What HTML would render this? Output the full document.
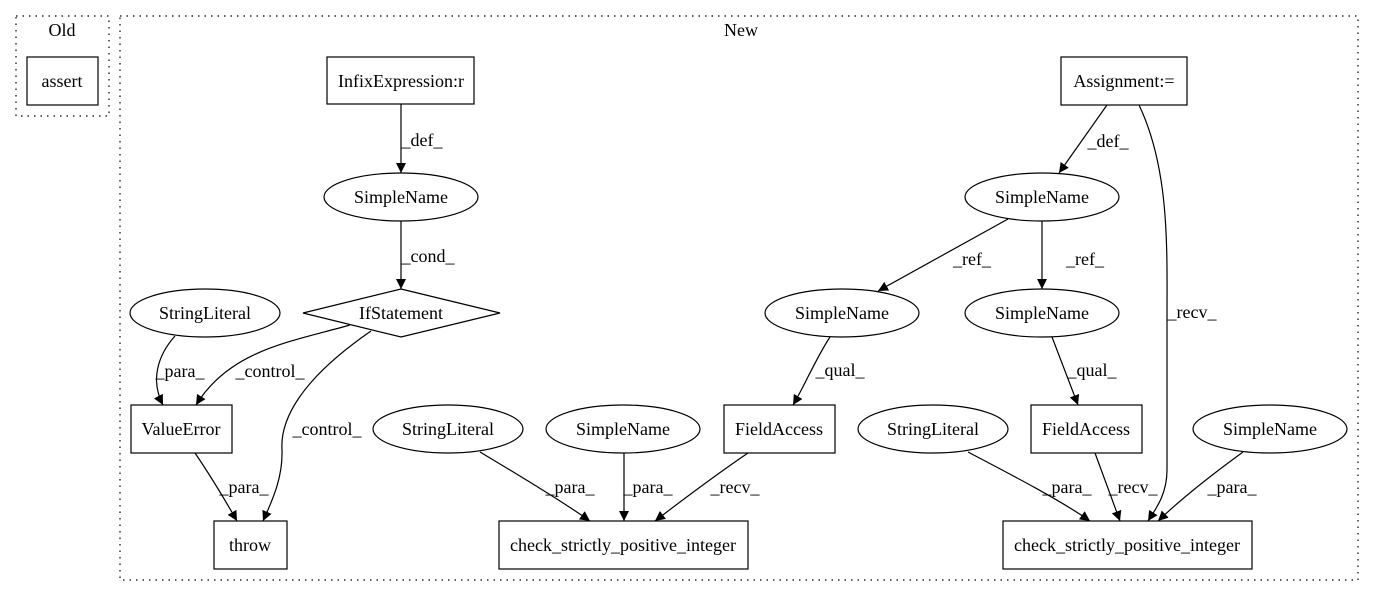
<!DOCTYPE html>
<html><head><meta charset="utf-8"><style>
html,body{margin:0;padding:0;background:#fff;}
svg{display:block;font-family:"Liberation Serif",serif;font-size:18px;}
</style></head><body>
<svg width="1375" height="596" viewBox="0 0 1375 596" xmlns="http://www.w3.org/2000/svg">
<defs><marker id="a" markerWidth="10" markerHeight="10" refX="10" refY="5" orient="auto" markerUnits="userSpaceOnUse"><path d="M0,0 L10,5 L0,10 z" fill="#000"/></marker></defs>
<g fill="none" stroke="#000" stroke-width="1.2">
<rect x="16" y="16" width="93" height="100" stroke-dasharray="1.5,5"/>
<rect x="120" y="16" width="1238" height="564" stroke-dasharray="1.5,5"/>
<rect x="27" y="57" width="71" height="48"/>
<rect x="327" y="57" width="147" height="47"/>
<ellipse cx="401" cy="197" rx="77" ry="24"/>
<polygon points="401,289 500,313 401,337 303,313"/>
<ellipse cx="205" cy="313" rx="75" ry="24"/>
<rect x="131" y="405" width="101" height="48"/>
<rect x="214" y="521" width="73" height="48"/>
<ellipse cx="448" cy="429" rx="75" ry="24"/>
<ellipse cx="623" cy="429" rx="77" ry="24"/>
<rect x="724" y="405" width="111" height="48"/>
<rect x="499" y="521" width="249" height="48"/>
<rect x="1061" y="57" width="126" height="48"/>
<ellipse cx="1042" cy="197" rx="77" ry="24"/>
<ellipse cx="842" cy="313" rx="77" ry="24"/>
<ellipse cx="1042" cy="313" rx="77" ry="24"/>
<rect x="1031" y="405" width="111" height="48"/>
<ellipse cx="933" cy="429" rx="75" ry="24"/>
<ellipse cx="1270" cy="429" rx="77" ry="24"/>
<rect x="1003" y="521" width="249" height="48"/>
</g>
<g fill="none" stroke="#000" stroke-width="1.2" marker-end="url(#a)">
<path d="M401,104 L401,173"/>
<path d="M401,221 L401,289"/>
<path d="M175,336 C158,355 150,380 163,405"/>
<path d="M350,325 C290,342 230,350 196,405"/>
<path d="M371,331 C300,380 280,420 282,450 C283,480 270,505 263,521"/>
<path d="M195,453 C210,475 225,500 237,521"/>
<path d="M480,452 C520,476 560,500 590,521"/>
<path d="M624,453 L624,521"/>
<path d="M748,453 C720,472 685,498 655,521"/>
<path d="M830,337 C815,360 805,385 793,405"/>
<path d="M1107,105 L1059,173"/>
<path d="M1008,219 L878,291"/>
<path d="M1042,221 L1042,289"/>
<path d="M1052,337 L1078,405"/>
<path d="M1139,105 C1170,170 1167,250 1167,320 L1167,470 C1167,495 1155,510 1148,521"/>
<path d="M968,452 C1010,474 1060,500 1090,521"/>
<path d="M1095,453 L1120,521"/>
<path d="M1243,452 C1210,476 1180,500 1158,521"/>
</g>
<g fill="#000" text-anchor="middle">
<text x="62" y="36">Old</text>
<text x="741" y="36">New</text>
<text x="62" y="87">assert</text>
<text x="401" y="87">InfixExpression:r</text>
<text x="401" y="203">SimpleName</text>
<text x="401" y="319">IfStatement</text>
<text x="205" y="319">StringLiteral</text>
<text x="181" y="435">ValueError</text>
<text x="250" y="551">throw</text>
<text x="448" y="435">StringLiteral</text>
<text x="623" y="435">SimpleName</text>
<text x="779" y="435">FieldAccess</text>
<text x="623" y="551">check_strictly_positive_integer</text>
<text x="1124" y="87">Assignment:=</text>
<text x="1042" y="203">SimpleName</text>
<text x="842" y="319">SimpleName</text>
<text x="1042" y="319">SimpleName</text>
<text x="1086" y="435">FieldAccess</text>
<text x="933" y="435">StringLiteral</text>
<text x="1270" y="435">SimpleName</text>
<text x="1127" y="551">check_strictly_positive_integer</text>
<text x="422" y="146">_def_</text>
<text x="428" y="262">_cond_</text>
<text x="180" y="377">_para_</text>
<text x="270" y="377">_control_</text>
<text x="327" y="435">_control_</text>
<text x="244" y="493">_para_</text>
<text x="570" y="493">_para_</text>
<text x="648" y="493">_para_</text>
<text x="735" y="493">_recv_</text>
<text x="840" y="376">_qual_</text>
<text x="1108" y="147">_def_</text>
<text x="972" y="265">_ref_</text>
<text x="1085" y="265">_ref_</text>
<text x="1092" y="376">_qual_</text>
<text x="1192" y="318">_recv_</text>
<text x="1067" y="493">_para_</text>
<text x="1133" y="493">_recv_</text>
<text x="1232" y="493">_para_</text>
</g>
</svg>
</body></html>
